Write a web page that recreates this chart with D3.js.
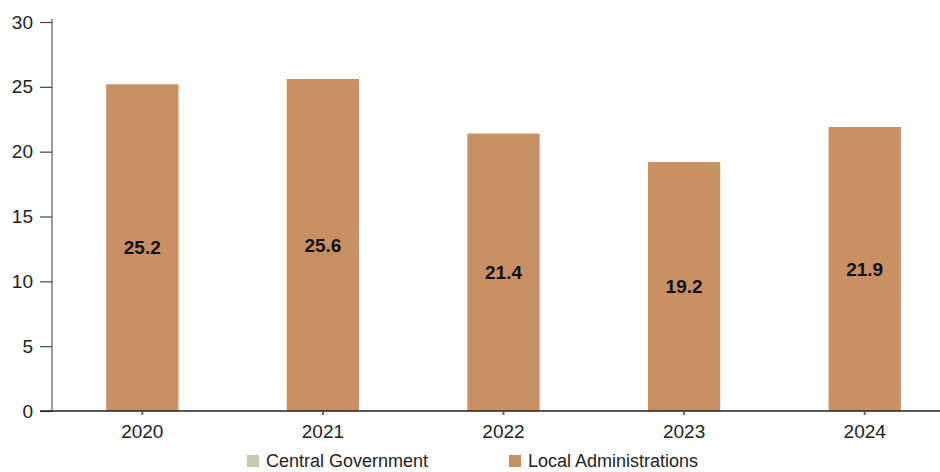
<!DOCTYPE html>
<html>
<head>
<meta charset="utf-8">
<script src="https://cdn.jsdelivr.net/npm/d3@7"></script>
<style>
  html, body { margin: 0; padding: 0; background: #fff; }
  svg { display: block; font-family: "Liberation Sans Narrow", "Arial Narrow", "Liberation Sans", sans-serif; }
</style>
</head>
<body>
<svg id="chart" width="940" height="472"></svg>
<script>
// Years on the horizontal axis
const years = ["2020", "2021", "2022", "2023", "2024"];
// Series values (percent)
const centralGovernment = [0, 0, 0, 0, 0];
const localAdministrations = [25.2, 25.6, 21.4, 19.2, 21.9];
// Y axis ticks
const yTicks = [0, 5, 10, 15, 20, 25, 30];
const seriesNames = ["Central Government", "Local Administrations"];
const seriesColors = ["#c8c7b0", "#c99064"];

const svg = d3.select("#chart");

const x = d3.scaleBand().domain(years).range([52, 955]).paddingInner(0.6).paddingOuter(0.3);
const y = d3.scaleLinear().domain([0, 30]).range([411, 22]);

// Y axis
const yAxis = svg.append("g").attr("transform", "translate(52,0)")
  .call(d3.axisLeft(y).tickValues(yTicks).tickSize(12).tickPadding(7).tickSizeOuter(0));
yAxis.select(".domain").attr("stroke", "#666").attr("stroke-width", 1.3)
  .attr("d", `M0,${y(30) - 3}V${y(0)}`);
yAxis.selectAll(".tick line").attr("stroke", "#444").attr("stroke-width", 1.2);
yAxis.selectAll(".tick text").attr("fill", "#222").style("font-size", "19px");

// Stacked bars
const stackData = years.map((yr, i) => ({ year: yr, cg: centralGovernment[i], la: localAdministrations[i] }));
const stack = d3.stack().keys(["cg", "la"])(stackData);
svg.append("g").selectAll("g").data(stack).join("g")
  .attr("fill", (d, i) => seriesColors[i])
  .selectAll("rect").data(d => d).join("rect")
  .attr("x", d => x(d.data.year))
  .attr("width", x.bandwidth())
  .attr("y", d => y(d[1]))
  .attr("height", d => y(d[0]) - y(d[1]));

// X axis
const xAxis = svg.append("g").attr("transform", `translate(0,${y(0)})`)
  .call(d3.axisBottom(x).tickSize(4).tickPadding(10).tickSizeOuter(0));
xAxis.select(".domain").attr("stroke", "#222").attr("stroke-width", 1.3)
  .attr("d", `M40,0H940`);
xAxis.selectAll(".tick line").attr("stroke", "#666").attr("stroke-width", 2).attr("y1", 1).attr("y2", 4);
xAxis.selectAll(".tick text").attr("fill", "#222").style("font-size", "19px");

// Value labels at bar middles
svg.append("g").selectAll("text").data(stackData).join("text")
  .attr("x", d => x(d.year) + x.bandwidth() / 2)
  .attr("y", d => y((d.cg + d.la) / 2))
  .attr("dy", "0.35em")
  .attr("text-anchor", "middle")
  .attr("font-weight", "bold")
  .attr("fill", "#111")
  .style("font-size", "19px")
  .text(d => d3.format(".1f")(d.cg + d.la));

// Legend
const legendX = [247, 509];
const legend = svg.append("g").selectAll("g").data(seriesNames).join("g")
  .attr("transform", (d, i) => `translate(${legendX[i]},455)`);
legend.append("rect").attr("width", 12).attr("height", 12).attr("fill", (d, i) => seriesColors[i]);
legend.append("text").attr("x", 19).attr("y", 12).attr("fill", "#222")
  .style("font-size", "18px").text(d => d);
</script>
</body>
</html>
